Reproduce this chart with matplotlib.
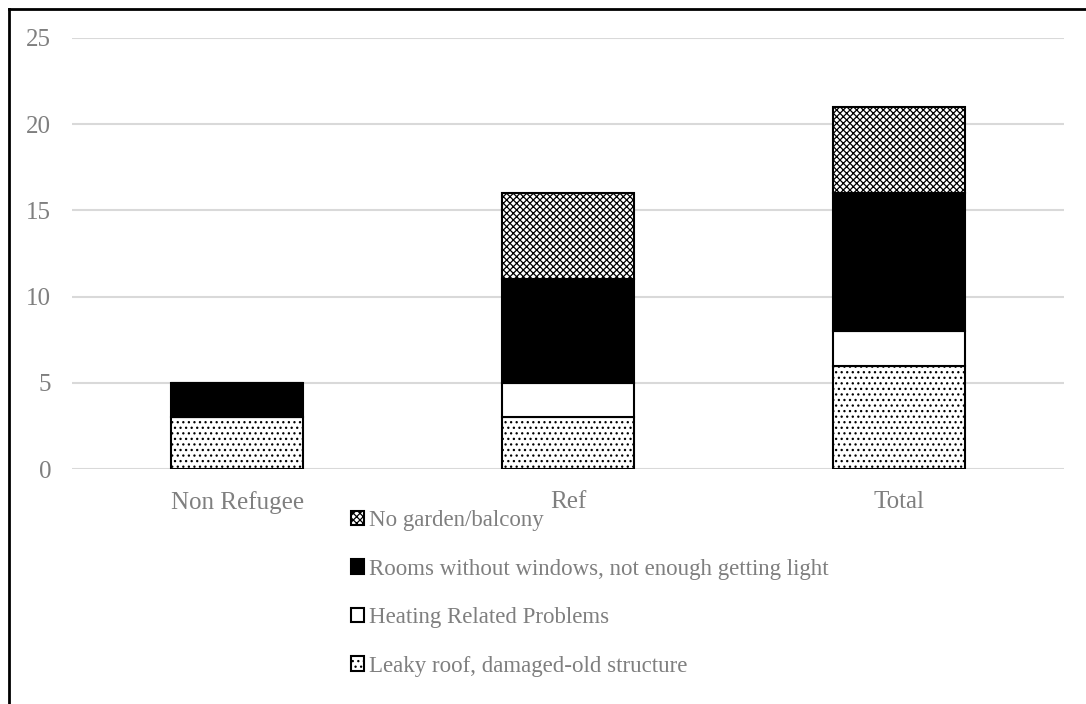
import matplotlib
matplotlib.use("Agg")
import matplotlib.pyplot as plt
from matplotlib.lines import Line2D
import numpy as np

plt.rcParams['font.family'] = ['Liberation Serif', 'DejaVu Serif']
plt.rcParams['hatch.linewidth'] = 0.9

categories = ["Non Refugee", "Ref", "Total"]
series_names = ["Leaky roof, damaged-old structure", "Heating Related Problems",
                "Rooms without windows, not enough getting light", "No garden/balcony"]
leaky = [3, 3, 6]
heating = [0, 2, 2]
rooms = [2, 6, 8]
garden = [0, 5, 5]
yticks = [0, 5, 10, 15, 20, 25]

fig = plt.figure(figsize=(10.86, 7.04), dpi=100)
ax = fig.add_axes([72/1086, 1-469/704, (1064-72)/1086, (469-38)/704])

x = np.arange(len(categories))
w = 0.4
styles = [
    dict(facecolor='white', hatch='...'),
    dict(facecolor='white', hatch=None),
    dict(facecolor='black', hatch=None),
    dict(facecolor='white', hatch='xxxxx'),
]
bottom = np.zeros(len(categories))
handles = []
for vals, name, st in zip([leaky, heating, rooms, garden], series_names, styles):
    vals = np.array(vals, dtype=float)
    b = ax.bar(x, vals, w, bottom=bottom, edgecolor='black', linewidth=1.5,
               label=name, zorder=3, **st)
    bottom += vals
    handles.append(b)

ax.set_xlim(-0.5, 2.5)
ax.set_ylim(0, 25)
ax.set_yticks(yticks)
ax.set_xticks(x)
ax.set_xticklabels(categories)
ax.grid(axis='y', color='#d9d9d9', linewidth=1.5, zorder=0)
ax.set_axisbelow(True)
for s in ax.spines.values():
    s.set_visible(False)
ax.tick_params(axis='both', length=0, labelsize=18, colors='#7f7f7f')
ax.tick_params(axis='x', pad=16)
ax.tick_params(axis='y', pad=15)

leg = fig.legend(handles[::-1], series_names[::-1], loc='upper left',
                 bbox_to_anchor=(342/1086, 1-501/704), frameon=False,
                 fontsize=16.5, labelcolor='#7f7f7f', handlelength=0.55,
                 handleheight=0.6, handletextpad=0.25, labelspacing=1.2,
                 borderaxespad=0)

fig.add_artist(Line2D([9/1086, 9/1086], [0, 1-9/704], color='black', linewidth=2,
                      transform=fig.transFigure))
fig.add_artist(Line2D([9/1086, 1], [1-9/704, 1-9/704], color='black', linewidth=2,
                      transform=fig.transFigure))

fig.savefig("out.png", dpi=100, facecolor='white')
